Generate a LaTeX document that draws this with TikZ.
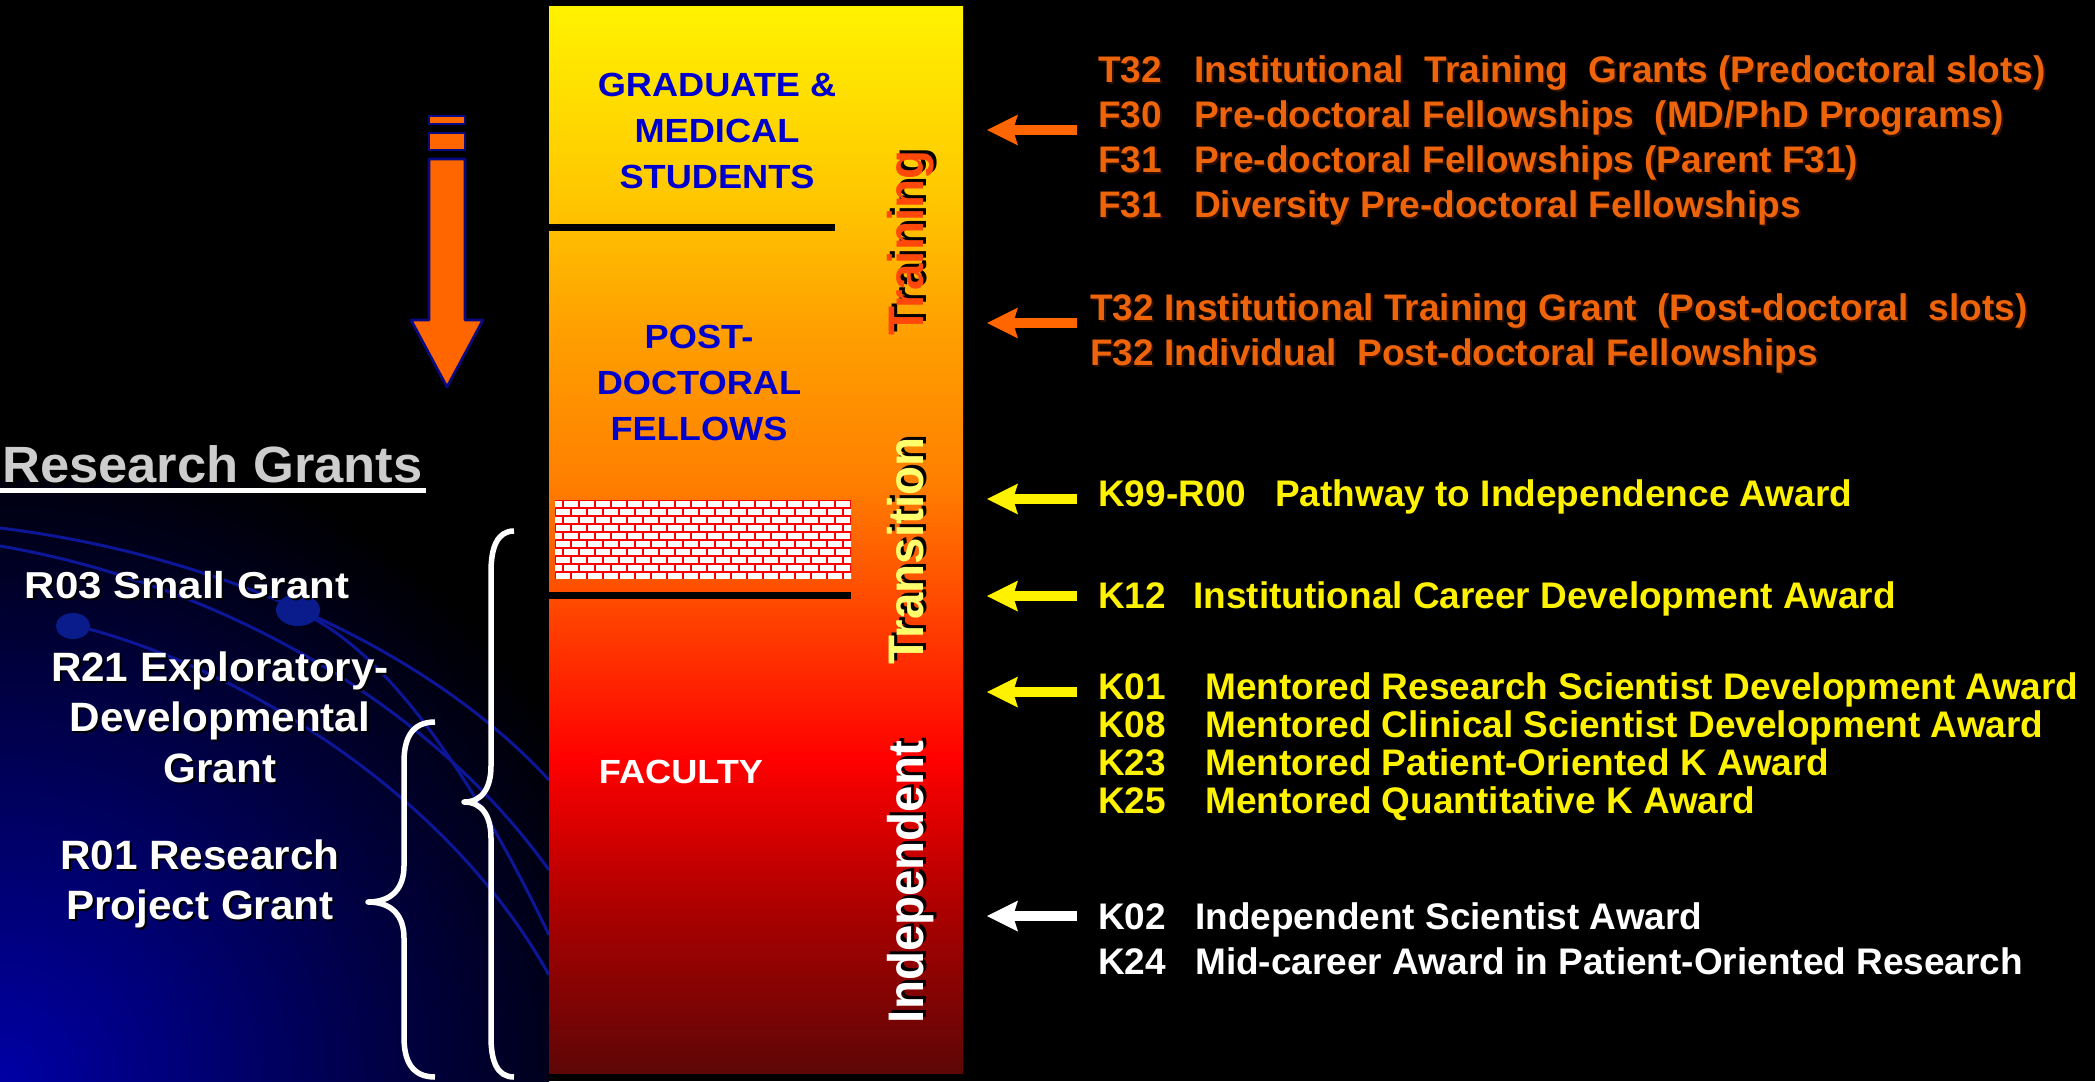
\documentclass[tikz,border=0pt]{standalone}
\usepackage{fontspec}
\setmainfont{Liberation Sans}
\newfontfamily\listfont{Liberation Sans}
\newfontfamily\barfont{Liberation Sans}[FakeStretch=1.08]
\newfontfamily\sidefont{Liberation Sans}[FakeStretch=0.95]
\newfontfamily\grantfont{Liberation Sans}[FakeStretch=1.03]
\newfontfamily\smallgrantfont{Liberation Sans}[FakeStretch=1.12]
\newfontfamily\headfont{Liberation Sans}[FakeStretch=1.03]
\usetikzlibrary{arrows.meta}
\definecolor{arrorange}{RGB}{255,102,0}
\definecolor{listorange}{RGB}{238,100,10}
\definecolor{listshadow}{RGB}{45,15,0}
\definecolor{trainred}{RGB}{255,72,10}
\definecolor{transyellow}{RGB}{255,255,110}
\definecolor{gradblue}{RGB}{0,0,205}
\definecolor{bgblue}{RGB}{0,0,165}
\definecolor{arcblue}{RGB}{12,22,150}
\definecolor{blobblue}{RGB}{10,28,140}
\definecolor{navyline}{RGB}{10,10,128}
\definecolor{rgsilver}{RGB}{205,205,205}
\definecolor{bar0}{RGB}{94,6,6}
\definecolor{bar1}{RGB}{176,0,0}
\definecolor{bar2}{RGB}{255,0,0}
\definecolor{bar3}{RGB}{255,74,0}
\definecolor{bar4}{RGB}{255,128,0}
\definecolor{bar5}{RGB}{255,160,0}
\definecolor{bar6}{RGB}{255,198,0}
\definecolor{bar7}{RGB}{255,242,0}
\pgfdeclareverticalshading{careerbar}{100bp}{color(0bp)=(bar0); color(25bp)=(bar0); color(33.1bp)=(bar1); color(39.7bp)=(bar2); color(47.2bp)=(bar3); color(52.8bp)=(bar4); color(59.9bp)=(bar5); color(65.9bp)=(bar6); color(75bp)=(bar7); color(100bp)=(bar7)}
% text with a drop shadow
\newcommand{\shadowed}[3][2pt]{\makebox[0pt][l]{\kern#1\raisebox{-#1}{\textcolor{#2}{#3}}}#3}
\begin{document}
\begin{tikzpicture}[x=1pt, y=-1pt, line join=round,
		listtext/.style={anchor=base west, inner sep=0pt, font=\listfont\bfseries\fontsize{37}{44}\selectfont},
		bartext/.style={inner sep=0pt, align=center, font=\barfont\bfseries\fontsize{33.5}{46}\selectfont},
		sidelabel/.style={anchor=base, rotate=90, inner sep=0pt, font=\sidefont\bfseries\fontsize{50}{60}\selectfont},
		granttext/.style={inner sep=0pt, align=center, text=white, font=\grantfont\bfseries\fontsize{41}{50.5}\selectfont},
		pointer/.style={line width=10pt, -{Stealth[length=31pt, width=31pt, inset=5pt, line width=0pt]}},
		grantbrace/.style={white, line width=5.5pt},
		bgarc/.style={arcblue, line width=3pt}]
	\useasboundingbox (0,0) rectangle (2095,1081);
	\fill[black] (0,0) rectangle (2095,1081);
	%Blue corner with arcs
	\begin{scope}
		\clip (0,480) rectangle (549,1081);
		\shade[inner color=bgblue, outer color=black] (0,1081) circle (660pt);
		\draw[bgarc] (0,528) .. controls (220,555) and (430,650) .. (549,780);
		\draw[bgarc] (0,546) .. controls (200,580) and (420,690) .. (549,870);
		\draw[bgarc] (73,625) .. controls (220,660) and (440,780) .. (549,975);
		\draw[bgarc] (298,611) .. controls (390,650) and (480,790) .. (549,935);
		\fill[blobblue] (73,626) ellipse (17pt and 13pt);
		\fill[blobblue] (298,610) ellipse (22pt and 16pt);
	\end{scope}
	%Career bar
	\shade[shading=careerbar] (549,7) rectangle (963,1073);
	\draw[black, line width=7pt] (549,227) -- (835,227);
	\draw[black, line width=7pt] (549,595.5) -- (851,595.5);
	%Brick wall
	\fill[red] (555,500) rectangle (851,579);
	\begin{scope}
		\clip (555,500) rectangle (851,579);
		\foreach \r in {0,...,9}
		\foreach \c in {0,...,19}
		\fill[white] ({548+8*mod(\r,2)+16*\c},{501+8*\r}) rectangle ++(13.5,5.5);
	\end{scope}
	\node[bartext, text=gradblue] (grad) at (717,130.5) {GRADUATE \&\\MEDICAL\\STUDENTS};
	\node[bartext, text=gradblue] (post) at (699,383) {POST-\\DOCTORAL\\FELLOWS};
	\node[bartext, text=white] (fac) at (681,772) {FACULTY};
	\node[sidelabel, text=trainred] (train) at (923,243) {\shadowed[3pt]{black}{Training}};
	\node[sidelabel, text=transyellow] (trans) at (923,551) {\shadowed[3pt]{black}{Transition}};
	\node[sidelabel, text=white] (indep) at (923,882) {\shadowed[3pt]{black}{Independent}};
	%Down arrow
	\filldraw[fill=arrorange, draw=navyline, line width=2.7pt] (429,116) rectangle (465,124);
	\filldraw[fill=arrorange, draw=navyline, line width=2.7pt] (429,133) rectangle (465,150);
	\filldraw[fill=arrorange, draw=navyline, line width=2.7pt]
	(429,159) -- (465,159) -- (465,320) -- (483,320) -- (447,387) -- (411,320) -- (429,320) -- cycle;
	%Research grants
	\node[anchor=base west, inner sep=0pt, text=rgsilver, font=\headfont\bfseries\fontsize{51}{60}\selectfont] (rg) at (2,482) {\shadowed[3pt]{black}{Research Grants}};
	\draw[white, line width=5pt] (0,490) -- (426,490);
	\node[granttext, anchor=base, font=\smallgrantfont\bfseries\fontsize{37.5}{45}\selectfont] (r03) at (187,598) {\shadowed{black}{R03 Small Grant}};
	\node[granttext] (r21) at (220,718) {\shadowed{black}{R21 Exploratory-}\\\shadowed{black}{Developmental}\\\shadowed{black}{Grant}};
	\node[granttext] (r01) at (200,885) {\shadowed{black}{R01 Research}\\\shadowed{black}{Project Grant}};
	\draw[grantbrace] (435,722) .. controls (412,722) and (404,738) .. (404,762) -- (404,866)
	.. controls (404,888) and (392,902) .. (368,902) .. controls (392,902) and (404,916) .. (404,938)
	-- (404,1037) .. controls (404,1061) and (412,1077) .. (435,1077);
	\draw[grantbrace] (514,531) .. controls (497,531) and (491,548) .. (491,572) -- (491,766)
	.. controls (491,788) and (482,802) .. (464,802) .. controls (482,802) and (491,816) .. (491,838)
	-- (491,1037) .. controls (491,1061) and (497,1077) .. (514,1077);
	%Arrows towards the bar
	\foreach \y/\c in {130/arrorange,323/arrorange,499/yellow,596/yellow,692/yellow,916/white}
	\draw[pointer, \c] (1077,\y) -- (987,\y);
	%Training awards
	\foreach \code/\desc [count=\i] in {T32/{Institutional\ \ Training\ \ Grants (Predoctoral slots)},
		F30/{Pre-doctoral Fellowships\ \ (MD/PhD Programs)},
		F31/{Pre-doctoral Fellowships (Parent F31)},
		F31/{Diversity Pre-doctoral Fellowships}}
	{
		\node[listtext, text=listorange] (prec\i) at (1098,37+45*\i) {\shadowed{listshadow}{\code}};
		\node[listtext, text=listorange] (pre\i) at (1194,37+45*\i) {\shadowed{listshadow}{\desc}};
	}
	\node[listtext, text=listorange] (post1) at (1090,320) {\shadowed{listshadow}{T32 Institutional Training Grant\ \ (Post-doctoral\ \ slots)}};
	\node[listtext, text=listorange] (post2) at (1090,365) {\shadowed{listshadow}{F32 Individual\ \ Post-doctoral Fellowships}};
	%Career development awards
	\node[listtext, text=yellow] (k99c) at (1098,506) {K99-R00};
	\node[listtext, text=yellow] (k99) at (1275,506) {Pathway to Independence Award};
	\node[listtext, text=yellow] (k12c) at (1098,608) {K12};
	\node[listtext, text=yellow] (k12) at (1193,608) {Institutional Career Development Award};
	\foreach \code/\desc [count=\i] in {K01/Mentored Research Scientist Development Award,
		K08/Mentored Clinical Scientist Development Award,
		K23/Mentored Patient-Oriented K Award,
		K25/Mentored Quantitative K Award}
	{
		\node[listtext, text=yellow] (mentc\i) at (1098,660.7+38.3*\i) {\code};
		\node[listtext, text=yellow] (ment\i) at (1205,660.7+38.3*\i) {\desc};
	}
	\node[listtext, text=white] (k02c) at (1098,929) {K02};
	\node[listtext, text=white] (k02) at (1195,929) {Independent Scientist Award};
	\node[listtext, text=white] (k24c) at (1098,974) {K24};
	\node[listtext, text=white] (k24) at (1195,974) {Mid-career Award in Patient-Oriented Research};
\end{tikzpicture}
\end{document}
